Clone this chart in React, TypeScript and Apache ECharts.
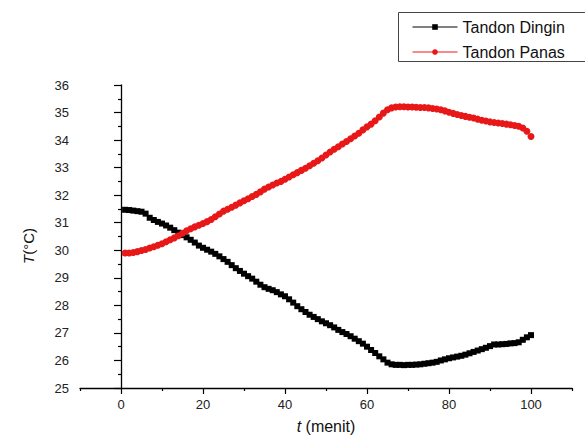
import React, { useEffect, useRef } from "react";
import * as echarts from "echarts";

const minutes = [
  1, 2, 3, 4, 5, 6, 7, 8, 9, 10, 11, 12, 13, 14, 15, 16, 17, 18, 19, 20,
  21, 22, 23, 24, 25, 26, 27, 28, 29, 30, 31, 32, 33, 34, 35, 36, 37, 38, 39, 40,
  41, 42, 43, 44, 45, 46, 47, 48, 49, 50, 51, 52, 53, 54, 55, 56, 57, 58, 59, 60,
  61, 62, 63, 64, 65, 66, 67, 68, 69, 70, 71, 72, 73, 74, 75, 76, 77, 78, 79, 80,
  81, 82, 83, 84, 85, 86, 87, 88, 89, 90, 91, 92, 93, 94, 95, 96, 97, 98, 99, 100,
];

const tandonDingin = [
  31.47, 31.46, 31.44, 31.42, 31.4, 31.33, 31.18, 31.1, 31.03, 30.97,
  30.9, 30.82, 30.73, 30.64, 30.55, 30.47, 30.38, 30.28, 30.17, 30.09,
  30.02, 29.95, 29.87, 29.78, 29.68, 29.58, 29.46, 29.35, 29.25, 29.15,
  29.06, 28.97, 28.86, 28.75, 28.66, 28.6, 28.55, 28.48, 28.4, 28.33,
  28.22, 28.1, 27.97, 27.86, 27.76, 27.66, 27.58, 27.5, 27.42, 27.35,
  27.28, 27.2, 27.11, 27.03, 26.96, 26.88, 26.79, 26.7, 26.61, 26.5,
  26.38, 26.27, 26.15, 26.04, 25.92, 25.86, 25.84, 25.84, 25.83, 25.84,
  25.84, 25.85, 25.86, 25.88, 25.9, 25.92, 25.95, 26.0, 26.04, 26.08,
  26.11, 26.14, 26.17, 26.21, 26.26, 26.31, 26.36, 26.41, 26.46, 26.52,
  26.58, 26.58, 26.59, 26.6, 26.62, 26.63, 26.66, 26.75, 26.84, 26.92,
];

const tandonPanas = [
  29.9, 29.9, 29.92, 29.95, 29.99, 30.03, 30.08, 30.13, 30.18, 30.24,
  30.31, 30.38, 30.45, 30.53, 30.62, 30.71, 30.78, 30.85, 30.91, 30.97,
  31.04, 31.12, 31.22, 31.32, 31.42, 31.49, 31.56, 31.64, 31.72, 31.8,
  31.87, 31.95, 32.03, 32.12, 32.22, 32.3, 32.37, 32.44, 32.5, 32.58,
  32.66, 32.74, 32.82, 32.9, 32.98, 33.07, 33.16, 33.25, 33.35, 33.46,
  33.57, 33.67, 33.76, 33.86, 33.95, 34.05, 34.15, 34.25, 34.37, 34.48,
  34.58, 34.7, 34.84, 34.98, 35.1, 35.17, 35.2, 35.21, 35.21, 35.2,
  35.2, 35.19, 35.18, 35.18, 35.17, 35.15, 35.13, 35.1, 35.06, 35.01,
  34.97, 34.93, 34.89, 34.86, 34.83, 34.8, 34.76, 34.72, 34.69, 34.66,
  34.64, 34.62, 34.6, 34.58, 34.56, 34.53, 34.5, 34.44, 34.32, 34.13,
];

const xMajorTicks = [0, 20, 40, 60, 80, 100];
const xMinorTicks = [-10, 10, 30, 50, 70, 90, 110];
const seriesNames = ["Tandon Dingin", "Tandon Panas"];

const FONT = "'Liberation Sans', Arial, sans-serif";

export default function App() {
  const ref = useRef<HTMLDivElement>(null);

  useEffect(() => {
    if (!ref.current) return;
    const chart = echarts.init(ref.current, undefined, { renderer: "svg" });
    const axisLine = { show: true, lineStyle: { color: "#000", width: 1.3 } };
    chart.setOption({
      animation: false,
      backgroundColor: "#fff",
      textStyle: { fontFamily: FONT },
      grid: { left: 80, right: 13, top: 85, bottom: 50, containLabel: false },
      legend: {
        orient: "vertical",
        left: 412,
        top: 19,
        padding: 0,
        itemWidth: 45,
        itemHeight: 7,
        itemGap: 9,
        data: seriesNames,
        lineStyle: { width: 1 },
        textStyle: { fontFamily: FONT, fontSize: 16, color: "#111" },
      },
      xAxis: [
        {
          type: "value",
          min: -10,
          max: 110,
          position: "bottom",
          axisLine,
          splitLine: { show: false },
          axisTick: { show: true, inside: false, length: 6, customValues: xMajorTicks, lineStyle: { color: "#000", width: 1.2 } },
          axisLabel: { customValues: xMajorTicks, inside: false, margin: 10, fontSize: 13, color: "#222", fontFamily: FONT },
        },
        {
          type: "value",
          min: -10,
          max: 110,
          position: "bottom",
          axisLine: { show: false },
          splitLine: { show: false },
          axisTick: { show: true, inside: false, length: 3, customValues: xMinorTicks, lineStyle: { color: "#000", width: 1.2 } },
          axisLabel: { show: false },
        },
      ],
      yAxis: {
        type: "value",
        min: 25,
        max: 36,
        interval: 1,
        axisLine,
        splitLine: { show: false },
        axisTick: { show: true, inside: false, length: 7, lineStyle: { color: "#000", width: 1.2 } },
        minorTick: { show: true, splitNumber: 2, length: 3, lineStyle: { color: "#000", width: 1.2 } },
        axisLabel: { margin: 11, inside: false, fontSize: 13, color: "#222", fontFamily: FONT },
      },
      graphic: [
        {
          type: "rect",
          shape: { x: 398.5, y: 12.5, width: 200, height: 49 },
          style: { fill: "none", stroke: "#444", lineWidth: 1 },
          silent: true,
        },
        {
          type: "text",
          x: 28,
          y: 246,
          rotation: Math.PI / 2,
          style: {
            text: "{i|T}(°C)",
            fontFamily: FONT,
            fontSize: 15,
            fill: "#111",
            align: "center",
            verticalAlign: "middle",
            rich: { i: { fontStyle: "italic", fontFamily: FONT, fontSize: 15, fill: "#111" } },
          },
        },
        {
          type: "text",
          x: 326,
          y: 426,
          style: {
            text: "{i|t} (menit)",
            fontFamily: FONT,
            fontSize: 16,
            fill: "#111",
            align: "center",
            verticalAlign: "middle",
            rich: { i: { fontStyle: "italic", fontFamily: FONT, fontSize: 16, fill: "#111" } },
          },
        },
      ],
      series: [
        {
          name: seriesNames[0],
          type: "line",
          xAxisIndex: 0,
          data: minutes.map((t, i) => [t, tandonDingin[i]]),
          symbol: "rect",
          symbolSize: 6,
          itemStyle: { color: "#000" },
          lineStyle: { color: "#000", width: 1 },
        },
        {
          name: seriesNames[1],
          type: "line",
          xAxisIndex: 0,
          data: minutes.map((t, i) => [t, tandonPanas[i]]),
          symbol: "circle",
          symbolSize: 7,
          itemStyle: { color: "#e81818" },
          lineStyle: { color: "#e81818", width: 1 },
        },
      ],
    });
    return () => chart.dispose();
  }, []);

  return (
    <div
      ref={ref}
      style={{ position: "fixed", left: 0, top: 0, width: 585, height: 438 }}
    />
  );
}
